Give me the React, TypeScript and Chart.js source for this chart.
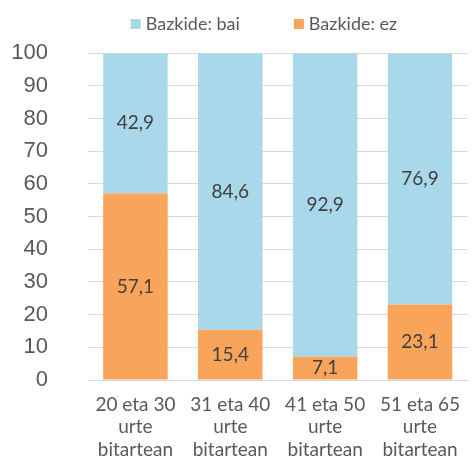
import React, { useEffect, useRef } from "react";
import { Chart, registerables } from "chart.js";

Chart.register(...registerables);

const categories: string[][] = [
  ["20 eta 30", "urte", "bitartean"],
  ["31 eta 40", "urte", "bitartean"],
  ["41 eta 50", "urte", "bitartean"],
  ["51 eta 65", "urte", "bitartean"],
];
const baiValues = [42.9, 84.6, 92.9, 76.9];
const ezValues = [57.1, 15.4, 7.1, 23.1];
const yTicks = [0, 10, 20, 30, 40, 50, 60, 70, 80, 90, 100];

const BLUE = "#A8D8E9";
const ORANGE = "#F8A45B";
const LABEL_FONT = "Lato, 'Open Sans', sans-serif";

const dataLabelPlugin = {
  id: "dataLabels",
  afterDatasetsDraw(chart: any) {
    const ctx = chart.ctx;
    ctx.save();
    ctx.font = `19px ${LABEL_FONT}`;
    ctx.fillStyle = "#404040";
    ctx.textAlign = "center";
    ctx.textBaseline = "middle";
    chart.data.datasets.forEach((ds: any, di: number) => {
      const meta = chart.getDatasetMeta(di);
      meta.data.forEach((bar: any, i: number) => {
        const v = ds.data[i];
        const { x, y, base } = bar.getProps(["x", "y", "base"], true);
        ctx.fillText(v.toFixed(1).replace(".", ","), x, (y + base) / 2);
      });
    });
    ctx.restore();
  },
};

// Legend drawn on top, in reverse dataset order (bai first, then ez)
const legendPlugin = {
  id: "topLegend",
  afterDraw(chart: any) {
    const ctx = chart.ctx;
    ctx.save();
    ctx.font = `18px ${LABEL_FONT}`;
    ctx.textBaseline = "middle";
    ctx.textAlign = "left";
    const items = [...chart.data.datasets].reverse();
    const box = 10;
    const textGap = 5;
    const itemGap = 54;
    const widths = items.map((d: any) => box + textGap + ctx.measureText(d.label).width);
    const total = widths.reduce((a: number, b: number) => a + b, 0) + itemGap * (items.length - 1);
    const cx = 264;
    let x = cx - total / 2;
    const cy = 24;
    items.forEach((d: any, i: number) => {
      ctx.fillStyle = d.backgroundColor;
      ctx.fillRect(x, cy - box / 2, box, box);
      ctx.fillStyle = "#595959";
      ctx.fillText(d.label, x + box + textGap, cy);
      x += widths[i] + itemGap;
    });
    ctx.restore();
  },
};

export default function App() {
  const ref = useRef<HTMLCanvasElement>(null);
  useEffect(() => {
    document.body.style.margin = "0";
    const chart = new Chart(ref.current!, {
      type: "bar",
      data: {
        labels: categories,
        datasets: [
          { label: "Bazkide: ez", data: ezValues, backgroundColor: ORANGE, categoryPercentage: 0.68, barPercentage: 1 },
          { label: "Bazkide: bai", data: baiValues, backgroundColor: BLUE, categoryPercentage: 0.68, barPercentage: 1 },
        ],
      },
      options: {
        animation: false,
        responsive: false,
        devicePixelRatio: 1,
        layout: { padding: { top: 52, right: 0, bottom: 0, left: 0 } },
        plugins: {
          tooltip: { enabled: false },
          legend: { display: false },
        },
        scales: {
          x: {
            stacked: true,
            grid: { display: false, drawTicks: false },
            border: { display: true, color: "#d9d9d9", width: 1 },
            afterFit: (scale: any) => {
              scale.height = 77;
            },
            ticks: {
              color: "#595959",
              font: { family: LABEL_FONT, size: 19, lineHeight: 1.17 },
              padding: 14,
              maxRotation: 0,
              autoSkip: false,
            },
          },
          y: {
            stacked: true,
            min: 0,
            max: 100,
            afterBuildTicks: (scale: any) => {
              scale.ticks = yTicks.map((v) => ({ value: v }));
            },
            afterFit: (scale: any) => {
              scale.width = 88;
            },
            grid: { color: "#d9d9d9", drawTicks: false },
            border: { display: false },
            ticks: {
              color: "#595959",
              font: { family: "'Liberation Sans', Arial, sans-serif", size: 22 },
              padding: 40,
            },
          },
        },
      },
      plugins: [dataLabelPlugin, legendPlugin],
    });
    return () => chart.destroy();
  }, []);
  return (
    <div style={{ width: 474, height: 457 }}>
      <canvas ref={ref} width={474} height={457} style={{ display: "block" }} />
    </div>
  );
}
